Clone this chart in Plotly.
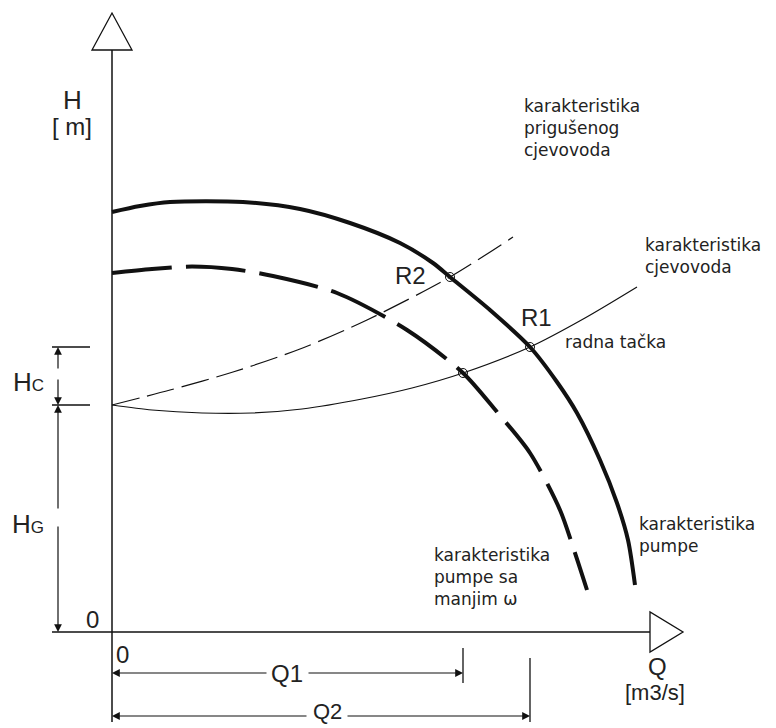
import plotly.graph_objects as go

# Pump characteristic at nominal speed: flow Q and head H
pump_q = [0.00, 0.28, 0.58, 1.31, 1.88, 2.38, 2.88, 3.21, 3.38, 3.78, 4.18, 4.45, 4.65, 4.88, 5.05, 5.16, 5.23]
pump_h = [4.20, 4.26, 4.30, 4.30, 4.23, 4.09, 3.89, 3.69, 3.55, 3.22, 2.85, 2.50, 2.19, 1.72, 1.29, 0.92, 0.47]

# Pump characteristic at reduced speed (smaller omega)
slow_q = [0.00, 0.40, 0.80, 1.20, 1.61, 2.25, 2.95, 3.51, 3.85, 4.18, 4.48, 4.62, 4.75]
slow_h = [3.59, 3.63, 3.655, 3.63, 3.56, 3.39, 3.02, 2.59, 2.20, 1.79, 1.22, 0.82, 0.42]

# Pipeline characteristic
pipe_q = [0.00, 0.40, 0.90, 1.40, 1.90, 2.50, 3.00, 3.51, 4.18, 4.73, 5.25]
pipe_h = [2.27, 2.22, 2.19, 2.19, 2.23, 2.33, 2.44, 2.59, 2.85, 3.14, 3.45]

# Throttled pipeline characteristic
thr_q = [0.00, 0.58, 1.21, 1.88, 2.55, 3.38, 4.01]
thr_h = [2.27, 2.42, 2.60, 2.83, 3.12, 3.55, 3.95]

# Operating points
pt_names = ["R2", "R1", ""]
pt_q = [3.38, 4.18, 3.51]
pt_h = [3.55, 2.85, 2.59]

H_G = pipe_h[0]          # static head
Q1 = pt_q[2]             # flow at reduced speed
Q2 = pt_q[1]             # flow at working point R1
H_R1 = pt_h[1]

INK = "#111111"
TXT = "#222222"
BIG = "Liberation Sans, Arial, sans-serif"
SMALL = "DejaVu Sans, Verdana, sans-serif"

fig = go.Figure()

fig.add_trace(go.Scatter(x=thr_q, y=thr_h, mode="lines",
                         line=dict(color=INK, width=1.2, dash="28px,8px", shape="spline", smoothing=0.8)))
fig.add_trace(go.Scatter(x=pipe_q, y=pipe_h, mode="lines",
                         line=dict(color=INK, width=1.2, shape="spline", smoothing=0.8)))
fig.add_trace(go.Scatter(x=slow_q, y=slow_h, mode="lines",
                         line=dict(color=INK, width=4, dash="60px,14px", shape="spline", smoothing=0.8)))
fig.add_trace(go.Scatter(x=pump_q, y=pump_h, mode="lines",
                         line=dict(color=INK, width=4, shape="spline", smoothing=0.8)))
fig.add_trace(go.Scatter(x=pt_q, y=pt_h, mode="markers",
                         marker=dict(symbol="circle-open", size=9, color=INK,
                                     line=dict(color=INK, width=1))))

shapes = []
def seg(x0, y0, x1, y1, w=1.5):
    shapes.append(dict(type="line", xref="x", yref="y", x0=x0, y0=y0, x1=x1, y1=y1,
                       line=dict(color=INK, width=w)))

# axes
seg(0, -0.90, 0, 5.82)
seg(-0.60, 0, 5.38, 0)
shapes.append(dict(type="path", xref="x", yref="y", path="M -0.20,5.82 L 0.20,5.82 L 0,6.19 Z",
                   line=dict(color=INK, width=1.3), fillcolor="white"))
shapes.append(dict(type="path", xref="x", yref="y", path="M 5.38,0.20 L 5.38,-0.20 L 5.71,0 Z",
                   line=dict(color=INK, width=1.3), fillcolor="white"))

# head dimension ticks
seg(-0.60, H_G, -0.22, H_G, 1.3)
seg(-0.60, H_R1, -0.22, H_R1, 1.3)
# flow dimension ticks
seg(Q1, -0.16, Q1, -0.51, 1.3)
seg(Q2, -0.26, Q2, -0.90, 1.3)

annotations = []
def arrow(x_from, y_from, x_to, y_to):
    annotations.append(dict(x=x_to, y=y_to, ax=x_from, ay=y_from, xref="x", yref="y",
                            axref="x", ayref="y", text="", showarrow=True, arrowhead=2,
                            arrowsize=1.3, arrowwidth=1.2, arrowcolor=INK, standoff=0, startstandoff=0))

dim_x = -0.54
arrow(dim_x, 1.22, dim_x, H_G)
arrow(dim_x, 1.07, dim_x, 0)
arrow(dim_x, 2.62, dim_x, H_R1)
arrow(dim_x, 2.54, dim_x, H_G)

y_q1 = -0.41
y_q2 = -0.84
arrow(1.56, y_q1, 0, y_q1)
arrow(1.95, y_q1, Q1, y_q1)
arrow(1.96, y_q2, 0, y_q2)
arrow(2.34, y_q2, Q2, y_q2)

def label(x, y, text, size, font=BIG, xa="center", ya="middle", align="left"):
    annotations.append(dict(x=x, y=y, xref="x", yref="y", text=text, showarrow=False,
                            xanchor=xa, yanchor=ya, align=align,
                            font=dict(family=font, size=size, color=TXT)))

label(-0.40, 5.32, "H", 26)
label(-0.40, 5.06, "[ m]", 24)
label(-0.84, 2.50, "H<span style='font-size:17px'>C</span>", 26)
label(-0.84, 1.08, "H<span style='font-size:17px'>G</span>", 26)
label(-0.20, 0.13, "0", 24)
label(0.10, -0.22, "0", 24)
label(5.45, -0.34, "Q", 24)
label(5.43, -0.60, "[m3/s]", 22)
label(1.75, y_q1, "Q1", 24)
label(2.15, -0.79, "Q2", 22)

label(pt_q[0] - 0.40, pt_h[0] + 0.02, pt_names[0], 24)
label(pt_q[1] + 0.06, pt_h[1] + 0.30, pt_names[1], 24)

label(4.10, 5.04, "karakteristika<br>prigušenog<br>cjevovoda", 17, SMALL, xa="left")
label(5.31, 3.76, "karakteristika<br>cjevovoda", 17, SMALL, xa="left")
label(4.51, 2.90, "radna tačka", 17, SMALL, xa="left")
label(5.25, 0.97, "karakteristika<br>pumpe", 17, SMALL, xa="left")
label(3.20, 0.55, "karakteristika<br>pumpe sa<br>manjim ω", 17, SMALL, xa="left")

fig.update_layout(
    width=776, height=728,
    margin=dict(l=0, r=0, t=0, b=0),
    paper_bgcolor="white", plot_bgcolor="white",
    showlegend=False,
    xaxis=dict(range=[-1.12, 6.64], visible=False, fixedrange=True),
    yaxis=dict(range=[-0.96, 6.32], visible=False, fixedrange=True),
    shapes=shapes,
    annotations=annotations,
)

fig.write_html("out.html")
